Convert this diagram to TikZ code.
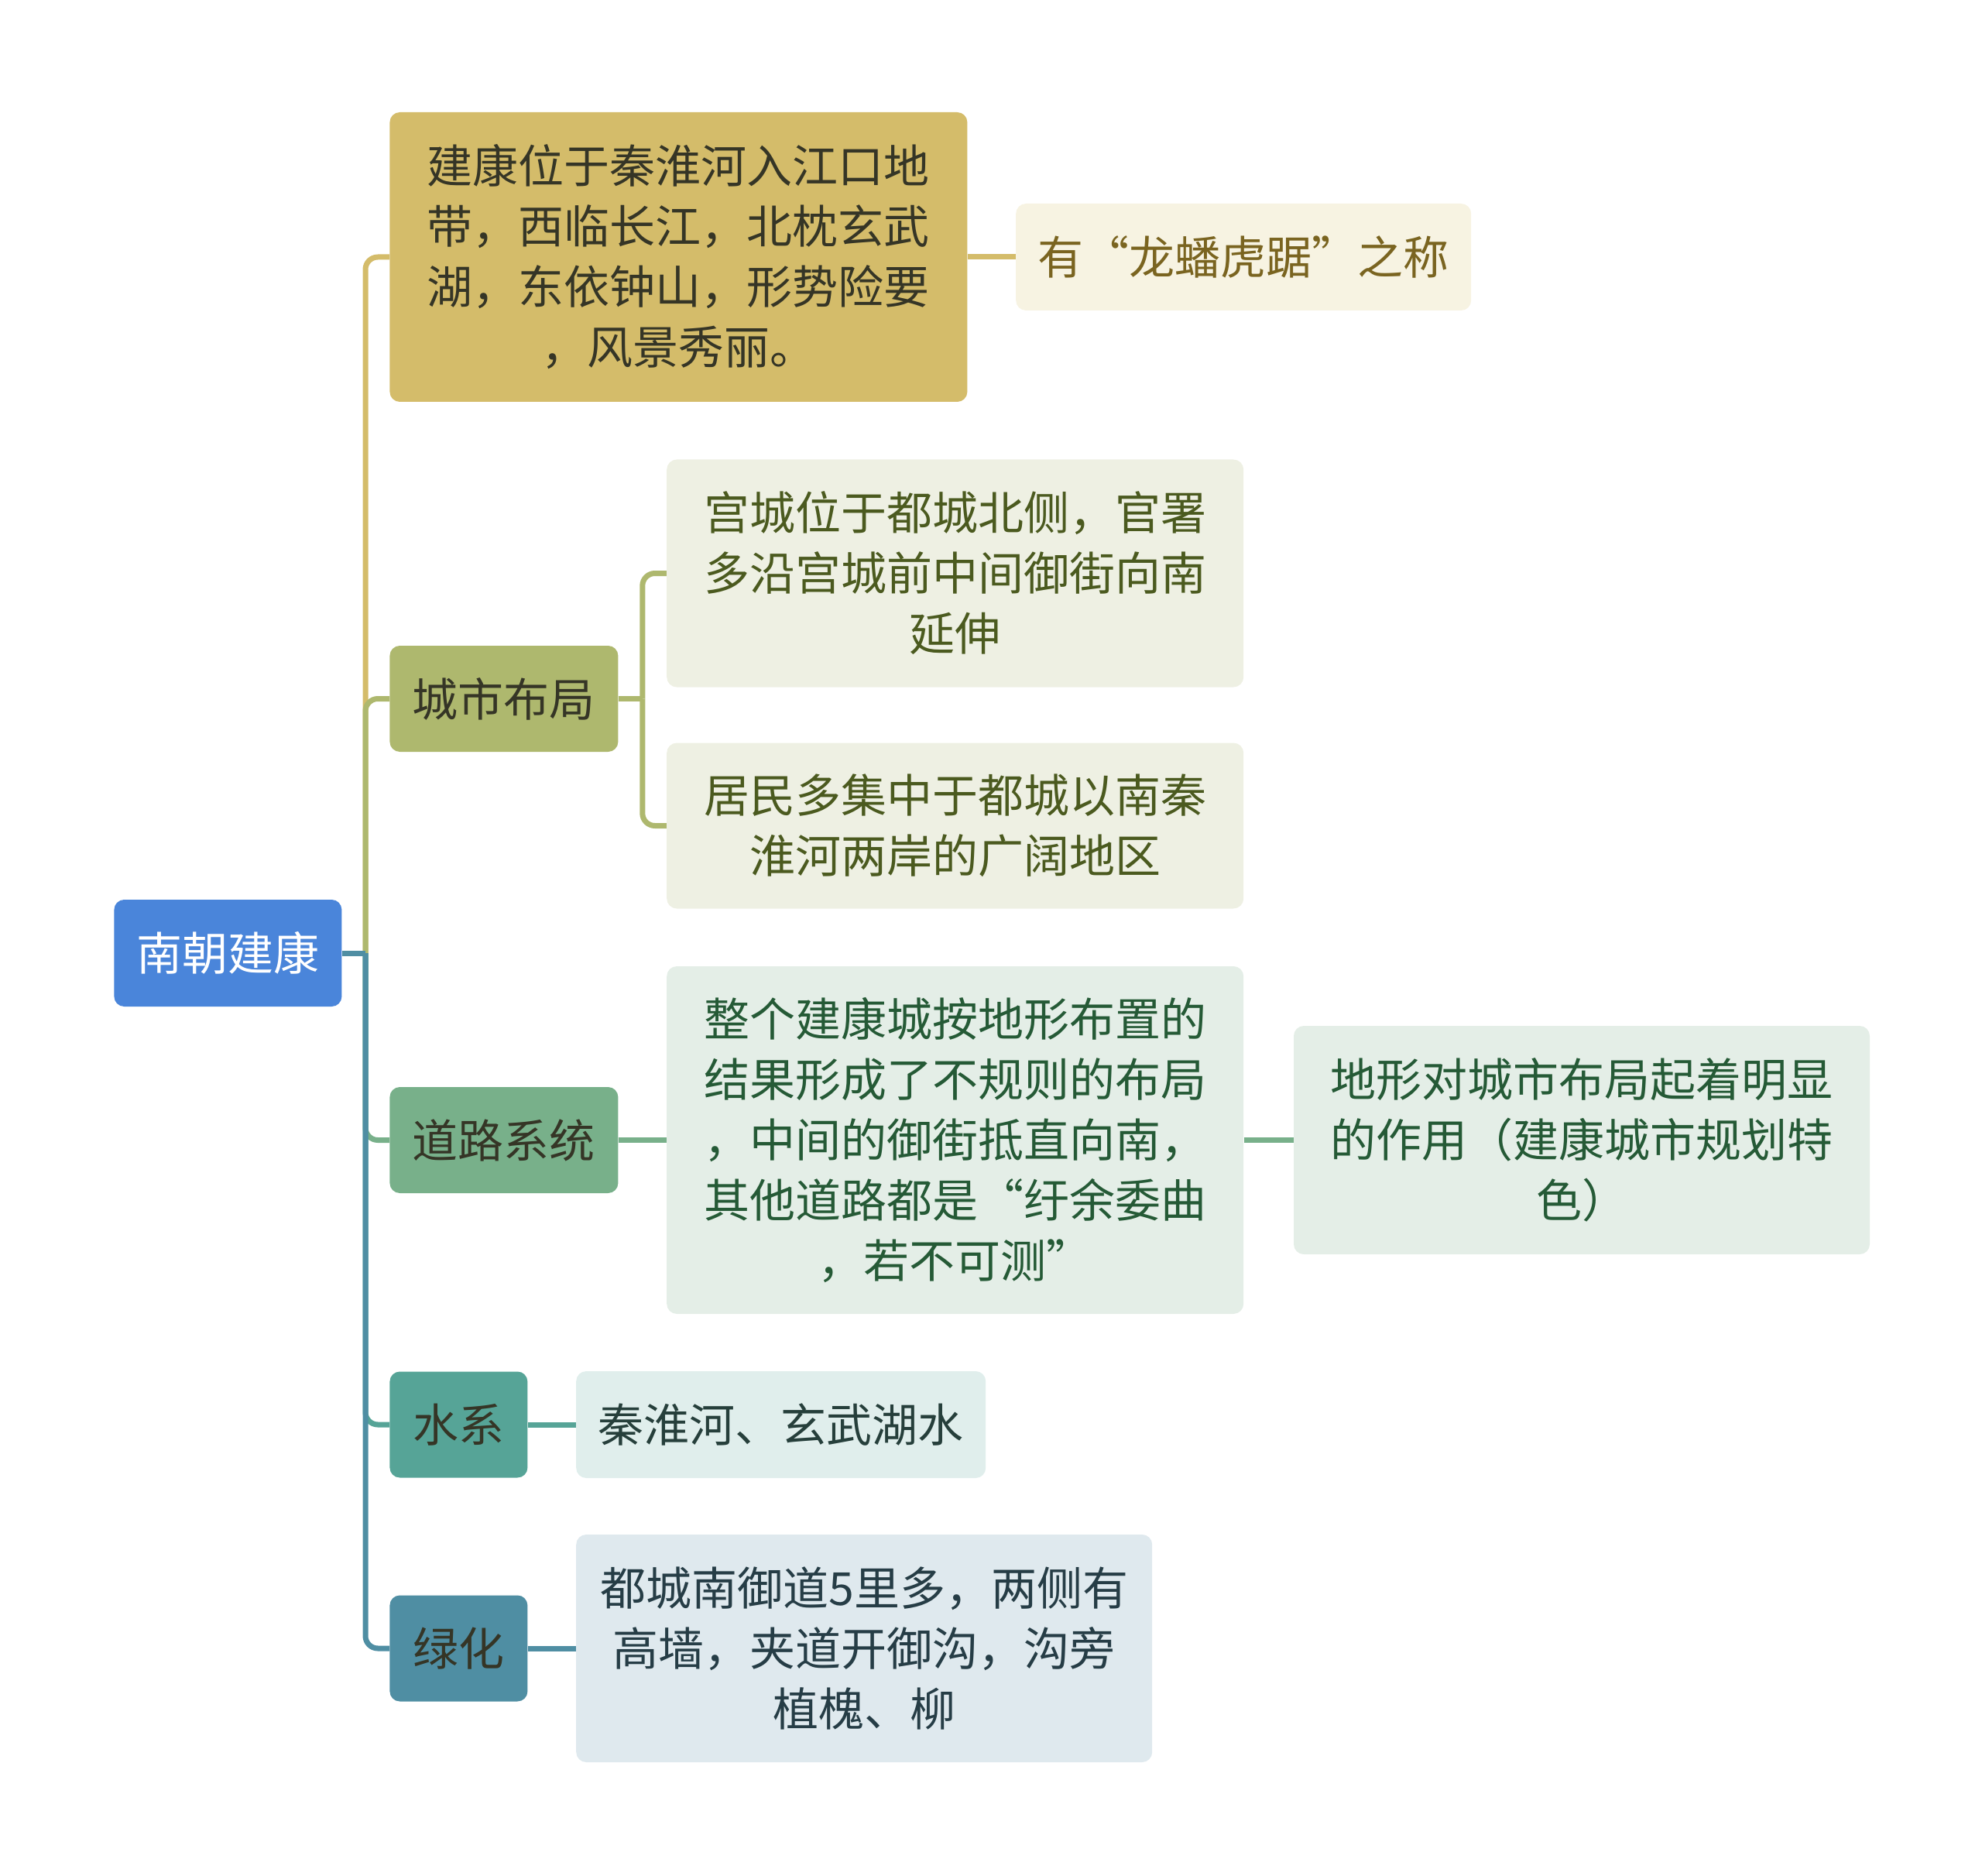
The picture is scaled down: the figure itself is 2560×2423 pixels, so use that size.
\documentclass[tikz,border=0pt]{standalone}
\usepackage{fontspec}
\setmainfont{Noto Sans CJK SC}
\usepackage{xcolor}
\usepackage{tikz}
\usetikzlibrary{positioning}

\definecolor{rootblue}{HTML}{4A85DA}
\definecolor{goldA}{HTML}{D4BC6A}
\definecolor{goldB}{HTML}{F7F3E2}
\definecolor{goldT}{HTML}{7A6420}
\definecolor{oliveA}{HTML}{AEB86E}
\definecolor{oliveB}{HTML}{EEF0E3}
\definecolor{oliveT}{HTML}{4B5A1F}
\definecolor{greenA}{HTML}{78B08A}
\definecolor{greenB}{HTML}{E4EEE7}
\definecolor{greenT}{HTML}{255A36}
\definecolor{tealA}{HTML}{56A497}
\definecolor{tealB}{HTML}{E0EEEC}
\definecolor{tealT}{HTML}{263F3B}
\definecolor{blueA}{HTML}{4F8EA3}
\definecolor{blueB}{HTML}{DFE9EE}
\definecolor{blueT}{HTML}{263D46}
\definecolor{ink}{HTML}{353526}

\begin{document}
\begin{tikzpicture}[
  x=0.5pt, y=-0.5pt,
  node distance=31pt,
  box/.style={rounded corners=6.5pt, align=center, inner sep=0pt, font=\fontsize{29.5}{39}\selectfont},
  topic/.style={box, fill=rootblue, text=white, minimum width=147pt, minimum height=69pt},
  branch/.style={box, fill=#1, text=ink, minimum height=68.5pt},
  leaf/.style 2 args={box, fill=#1, text=#2},
  link/.style={line width=3.5pt, rounded corners=8pt}
]
\useasboundingbox (0,0) rectangle (2560,2423);

\node[topic, anchor=west] (root) at (147,1231) {南朝建康};
\coordinate (hub) at (472,1231);

% site
\node[branch=goldA, minimum width=373pt, minimum height=187pt, anchor=west] (site) at (503,332)
  {建康位于秦淮河入江口地\\带，西临长江，北枕玄武\\湖，东依钟山，形势险要\\，风景秀丽。};
\node[leaf={goldB}{goldT}, minimum width=294pt, minimum height=69pt, right=of site] (alias) {有“龙蟠虎踞”之称};

% layout
\node[branch=oliveA, minimum width=147.5pt, anchor=west] (layout) at (503,902.5) {城市布局};
\node[leaf={oliveB}{oliveT}, minimum width=372.5pt, minimum height=147pt, right=of layout, yshift=81pt] (palace)
  {宫城位于都城北侧，官署\\多沿宫城前中间御街向南\\延伸};
\node[leaf={oliveB}{oliveT}, minimum width=372.5pt, minimum height=107pt, right=of layout, yshift=-82pt] (homes)
  {居民多集中于都城以南秦\\淮河两岸的广阔地区};
\coordinate[right=15.5pt of layout] (layoutbar);

% roads
\node[branch=greenA, minimum width=147.5pt, anchor=west] (roads) at (503,1472.5) {道路系统};
\node[leaf={greenB}{greenT}, minimum width=372.5pt, minimum height=224.5pt, right=of roads] (irreg)
  {整个建康城按地形布置的\\结果形成了不规则的布局\\，中间的御街抵直向南，\\其他道路都是“纡余委曲\\，若不可测”};
\node[leaf={greenB}{greenT}, minimum width=372pt, minimum height=147.5pt, right=32pt of irreg] (terrain)
  {地形对城市布局起着明显\\的作用（建康城市规划特\\色）};

% water
\node[branch=tealA, minimum width=89pt, anchor=west] (water) at (503,1840) {水系};
\node[leaf={tealB}{tealT}, minimum width=264.5pt, minimum height=69pt, right=of water] (rivers) {秦淮河、玄武湖水};

% trees
\node[branch=blueA, minimum width=89pt, anchor=west] (trees) at (503,2129) {绿化};
\node[leaf={blueB}{blueT}, minimum width=372pt, minimum height=147pt, right=of trees] (avenue)
  {都城南御道5里多，两侧有\\高墙，夹道开御沟，沟旁\\植槐、柳};

\draw[link, goldA] (hub) |- (site.west);
\draw[link, goldA] (site.east) -- (alias.west);
\draw[link, oliveA] (hub) |- (layout.west);
\draw[link, oliveA] (layout.east) -- (layoutbar);
\draw[link, oliveA] (layoutbar) |- (palace.west);
\draw[link, oliveA] (layoutbar) |- (homes.west);
\draw[link, greenA] (hub) |- (roads.west);
\draw[link, greenA] (roads.east) -- (irreg.west);
\draw[link, greenA] (irreg.east) -- (terrain.west);
\draw[link, tealA] (hub) |- (water.west);
\draw[link, tealA] (water.east) -- (rivers.west);
\draw[link, blueA] (hub) |- (trees.west);
\draw[link, blueA] (trees.east) -- (avenue.west);
\draw[link, blueA] (root.east) -- (hub);
\end{tikzpicture}
\end{document}
